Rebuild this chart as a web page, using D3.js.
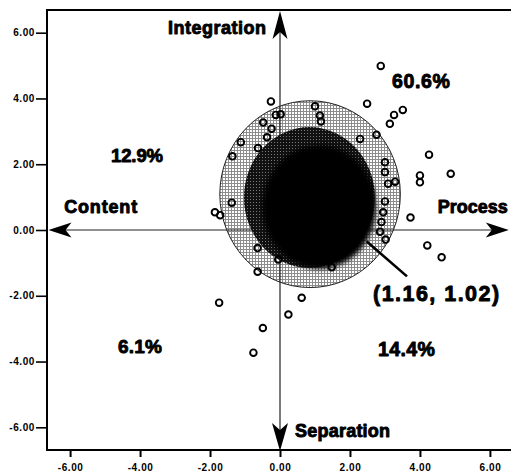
<!DOCTYPE html>
<html>
<head>
<meta charset="utf-8">
<script src="https://cdn.jsdelivr.net/npm/d3@7/dist/d3.min.js"></script>
<style>
  html, body { margin: 0; padding: 0; background: #fff; }
  svg { display: block; }
  text { font-family: "Liberation Sans", Arial, sans-serif; }
</style>
</head>
<body>
<div id="chart"></div>
<script>
// ---------------- data ----------------
const xTickValues = [-6, -4, -2, 0, 2, 4, 6];
const xTickLabels = ["-6.00", "-4.00", "-2.00", "0.00", "2.00", "4.00", "6.00"];
const yTickValues = [6, 4, 2, 0, -2, -4, -6];
const yTickLabels = ["6.00", "4.00", "2.00", "0.00", "-2.00", "-4.00", "-6.00"];

const axisNames = ["Integration", "Content", "Process", "Separation"];
const quadrantShares = ["60.6%", "12.9%", "6.1%", "14.4%"];
const centroidLabel = "(1.16, 1.02)";

// scatter points (x, y)
const pointX = [2.88, 2.49, 3.51, 3.26, 3.14, 2.76, 2.29, 4.26, 4.00, 4.00, 4.88, 3.00, 3.00, 3.09, 3.29,
  3.00, 2.95, 2.86, 3.02, 3.73, 4.21, 4.62, 2.90,
  -0.26, 1.00, -0.12, 0.02, 1.14, 1.17, -0.48, -0.24, -0.37, -1.12, -0.63, -1.36,
  -1.38, -1.86, -1.71, -0.64, -0.64, 0.62, 0.24, -0.49, -0.76, -1.74, 1.48, -0.05];
const pointY = [4.99, 3.84, 3.65, 3.50, 3.23, 2.90, 2.77, 2.29, 1.66, 1.45, 1.71, 2.06, 1.76, 1.41, 1.47,
  0.87, 0.54, -0.05, -0.29, 0.38, -0.47, -0.83, 0.24,
  3.91, 3.76, 3.50, 3.52, 3.48, 3.30, 3.27, 3.08, 2.82, 2.67, 2.49, 2.24,
  0.83, 0.54, 0.45, -0.55, -1.27, -2.06, -2.57, -2.98, -3.73, -2.21, -1.13, -0.90];

// density regions: centre x, centre y, radius x, radius y (data units)
const regionCx = [0.86, 0.84, 1.12];
const regionCy = [1.09, 0.99, 0.70];
const regionRx = [2.58, 1.87, 1.62];
const regionRy = [2.84, 2.14, 1.88];

// ---------------- chart ----------------
const W = 511, H = 475;
const svg = d3.select("#chart").append("svg").attr("width", W).attr("height", H);

const x = d3.scaleLinear().domain([-6.66, 6.66]).range([47, 513]);
const y = d3.scaleLinear().domain([-6.69, 6.69]).range([450, 10]);

const defs = svg.append("defs");
const pl = defs.append("pattern").attr("id", "light").attr("width", 3).attr("height", 3)
  .attr("patternUnits", "userSpaceOnUse");
pl.append("rect").attr("width", 3).attr("height", 3).attr("fill", "#8c8c8c");
pl.append("rect").attr("x", 1).attr("y", 1).attr("width", 2).attr("height", 2).attr("fill", "#fff");
const pd = defs.append("pattern").attr("id", "dark").attr("width", 3).attr("height", 3)
  .attr("patternUnits", "userSpaceOnUse");
pd.append("rect").attr("width", 3).attr("height", 3).attr("fill", "#111");
pd.append("rect").attr("x", 1).attr("y", 1).attr("width", 1).attr("height", 1).attr("fill", "#7a7a7a");
defs.append("filter").attr("id", "soft").attr("x", "-20%").attr("y", "-20%").attr("width", "140%").attr("height", "140%")
  .append("feGaussianBlur").attr("stdDeviation", 2.5);

const rxPx = (cx, r) => x(cx + r) - x(cx);
const ryPx = (cy, r) => y(cy) - y(cy + r);

// outer ring
svg.append("ellipse")
  .attr("cx", x(regionCx[0])).attr("cy", y(regionCy[0]))
  .attr("rx", rxPx(regionCx[0], regionRx[0])).attr("ry", ryPx(regionCy[0], regionRy[0]))
  .attr("fill", "url(#light)").attr("stroke", "#222").attr("stroke-width", 1);

// axes lines
const axisG = svg.append("g").attr("stroke", "#222").attr("stroke-width", 1.2);
axisG.append("line").attr("x1", x(-6.66) + 10).attr("x2", x(6.54) - 10).attr("y1", y(0)).attr("y2", y(0));
axisG.append("line").attr("x1", x(0)).attr("x2", x(0)).attr("y1", y(6.69) + 10).attr("y2", y(-6.69) - 10);

// dark regions
svg.append("ellipse")
  .attr("cx", x(regionCx[1])).attr("cy", y(regionCy[1]))
  .attr("rx", rxPx(regionCx[1], regionRx[1])).attr("ry", ryPx(regionCy[1], regionRy[1]))
  .attr("fill", "url(#dark)");
svg.append("ellipse")
  .attr("cx", x(regionCx[2])).attr("cy", y(regionCy[2]))
  .attr("rx", rxPx(regionCx[2], regionRx[2])).attr("ry", ryPx(regionCy[2], regionRy[2]))
  .attr("fill", "#000").attr("filter", "url(#soft)");

// arrowheads
function arrow(tx, ty, dir, len, half, notch) {
  const [dx, dy] = dir;
  const px = -dy, py = dx;
  const b1 = [tx - dx * len + px * half, ty - dy * len + py * half];
  const b2 = [tx - dx * len - px * half, ty - dy * len - py * half];
  const n = [tx - dx * notch, ty - dy * notch];
  svg.append("path")
    .attr("d", `M${tx},${ty}L${b1[0]},${b1[1]}L${n[0]},${n[1]}L${b2[0]},${b2[1]}Z`)
    .attr("fill", "#000");
}
arrow(x(0), y(6.69) + 1, [0, -1], 28, 7.5, 21);
arrow(x(0), y(-6.69) + 1, [0, 1], 28, 8, 21);
arrow(x(-6.66) + 1.5, y(0), [-1, 0], 23, 7.5, 17);
arrow(x(6.54), y(0), [1, 0], 23, 7.5, 17);

// points
svg.append("g").selectAll("circle").data(pointX.map((d, i) => [d, pointY[i]])).join("circle")
  .attr("cx", d => x(d[0])).attr("cy", d => y(d[1])).attr("r", 3.3)
  .attr("fill", "none").attr("stroke", "#000").attr("stroke-width", 1.9);

// pointer line
svg.append("line")
  .attr("x1", x(2.48)).attr("y1", y(-0.35))
  .attr("x2", x(3.63)).attr("y2", y(-1.41))
  .attr("stroke", "#000").attr("stroke-width", 2.6);

// frame
svg.append("rect").attr("x", x(-6.66)).attr("y", y(6.69))
  .attr("width", x(6.66) - x(-6.66)).attr("height", y(-6.69) - y(6.69))
  .attr("fill", "none").attr("stroke", "#000").attr("stroke-width", 2);

// y axis
const yAxis = d3.axisLeft(y).tickValues(yTickValues).tickSize(11).tickPadding(1)
  .tickFormat((d, i) => yTickLabels[i]);
const yg = svg.append("g").attr("transform", `translate(${x(-6.66)},0)`).call(yAxis);
yg.select(".domain").remove();
yg.selectAll(".tick line").attr("stroke", "#000").attr("stroke-width", 1.6);
yg.selectAll(".tick text").attr("font-size", 10).attr("font-weight", "bold")
  .attr("font-family", "Liberation Sans, Arial, sans-serif").attr("fill", "#000")
  .attr("letter-spacing", 0.6);

// x axis
const xAxis = d3.axisBottom(x).tickValues(xTickValues).tickSize(7).tickPadding(7)
  .tickFormat((d, i) => xTickLabels[i]);
const xg = svg.append("g").attr("transform", `translate(0,${y(-6.69)})`).call(xAxis);
xg.select(".domain").remove();
xg.selectAll(".tick line").attr("stroke", "#000").attr("stroke-width", 2);
xg.selectAll(".tick text").attr("font-size", 10).attr("font-weight", "bold")
  .attr("font-family", "Liberation Sans, Arial, sans-serif").attr("fill", "#000")
  .attr("letter-spacing", 0.6);

// labels
function label(txt, dx, dy, size, len) {
  svg.append("text").attr("x", x(dx)).attr("y", y(dy))
    .attr("font-size", size).attr("font-weight", "bold").attr("fill", "#000")
    .attr("stroke", "#000").attr("stroke-width", 0.9).attr("stroke-linejoin", "round")
    .attr("textLength", len).attr("lengthAdjust", "spacing")
    .text(txt);
}
label(axisNames[0], -3.2, 5.95, 18, 98);
label(axisNames[1], -6.17, 0.52, 18, 73);
label(axisNames[2], 4.51, 0.53, 18, 70);
label(axisNames[3], 0.43, -6.3, 18, 95);
label(quadrantShares[0], 3.2, 4.33, 19.5, 58);
label(quadrantShares[1], -4.83, 2.08, 18.5, 52);
label(quadrantShares[2], -4.63, -3.74, 19, 44);
label(quadrantShares[3], 2.8, -3.82, 19.5, 57);
label(centroidLabel, 2.66, -2.15, 21.5, 126);
</script>
</body>
</html>
